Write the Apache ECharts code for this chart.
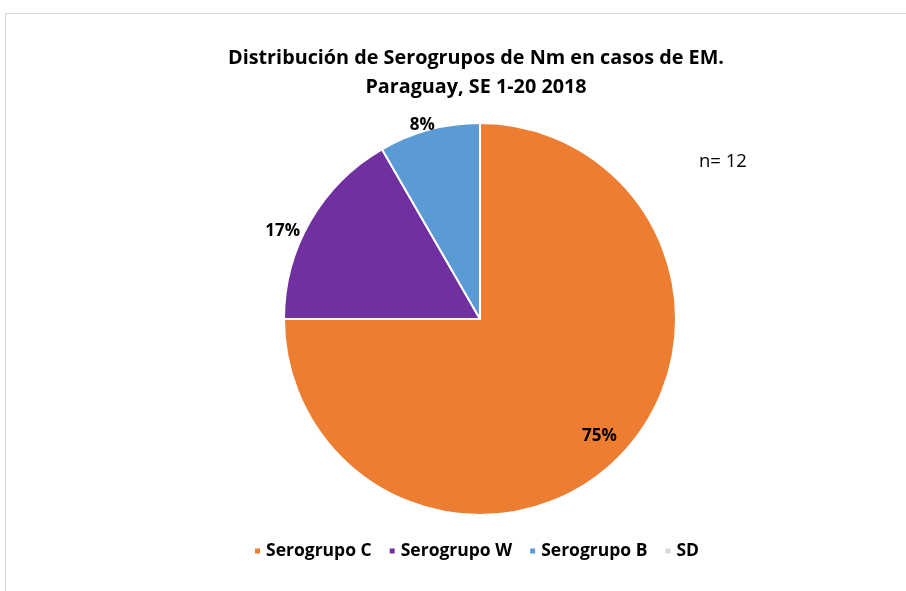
<!DOCTYPE html>
<html><head><meta charset="utf-8">
<script src="https://cdn.jsdelivr.net/npm/echarts@6/dist/echarts.min.js"></script>
<style>html,body{margin:0;padding:0;background:#fff}#c{width:906px;height:591px}</style>
</head><body><div id="c"></div>
<script>
const categories = ['Serogrupo C', 'Serogrupo W', 'Serogrupo B', 'SD'];
const values = [9, 2, 1, 0];
const colors = ['#ED7D31', '#7030A0', '#5B9BD5', '#D9D9D9'];
const titleLines = ['Distribución de Serogrupos de Nm en casos de EM.', 'Paraguay, SE 1-20 2018'];
const noteText = 'n= 12';
const total = values.reduce((a, b) => a + b, 0);
const FONT = '"Open Sans", sans-serif';

const data = categories.map((name, i) => {
  const d = { name, value: values[i], itemStyle: { color: colors[i] } };
  if (i === 0) {
    d.label = { position: 'inside', offset: [48, 46] };
  }
  return d;
});

const labelShift = { 1: [0, 13], 2: [12, 1] };

const chart = echarts.init(document.getElementById('c'));
chart.setOption({
  animation: false,
  backgroundColor: '#fff',
  graphic: [
    { type: 'rect', shape: { x: 5.5, y: 13.5, width: 920, height: 600 }, style: { fill: 'none', stroke: '#D9D9D9', lineWidth: 1 } },
    { type: 'text', left: 699, top: 152, style: { text: noteText, font: '18.5px ' + FONT, fill: '#000' } }
  ],
  title: {
    text: titleLines.join('\n'),
    left: 471, top: 39, textAlign: 'center',
    textStyle: { fontFamily: FONT, fontSize: 19.8, fontWeight: 'bold', color: '#000', lineHeight: 29 }
  },
  legend: {
    data: categories,
    top: 537, left: 248,
    icon: 'rect', itemWidth: 7, itemHeight: 7, itemGap: 16,
    textStyle: { fontFamily: FONT, fontSize: 17.5, fontWeight: 'bold', color: '#000' }
  },
  series: [{
    type: 'pie',
    center: [480, 319], radius: 196,
    startAngle: 90, clockwise: true,
    avoidLabelOverlap: false,
    stillShowZeroSum: false,
    itemStyle: { borderColor: '#fff', borderWidth: 2 },
    label: {
      show: true,
      formatter: p => p.value === 0 ? '' : Math.round(p.value / total * 100) + '%',
      fontFamily: FONT, fontSize: 17, fontWeight: 'bold', color: '#000',
      position: 'outside'
    },
    labelLine: { show: false, length: 6, length2: 0 },
    labelLayout: p => labelShift[p.dataIndex] ? { dx: labelShift[p.dataIndex][0], dy: labelShift[p.dataIndex][1] } : {},
    emphasis: { disabled: true },
    data
  }]
});
</script></body></html>
